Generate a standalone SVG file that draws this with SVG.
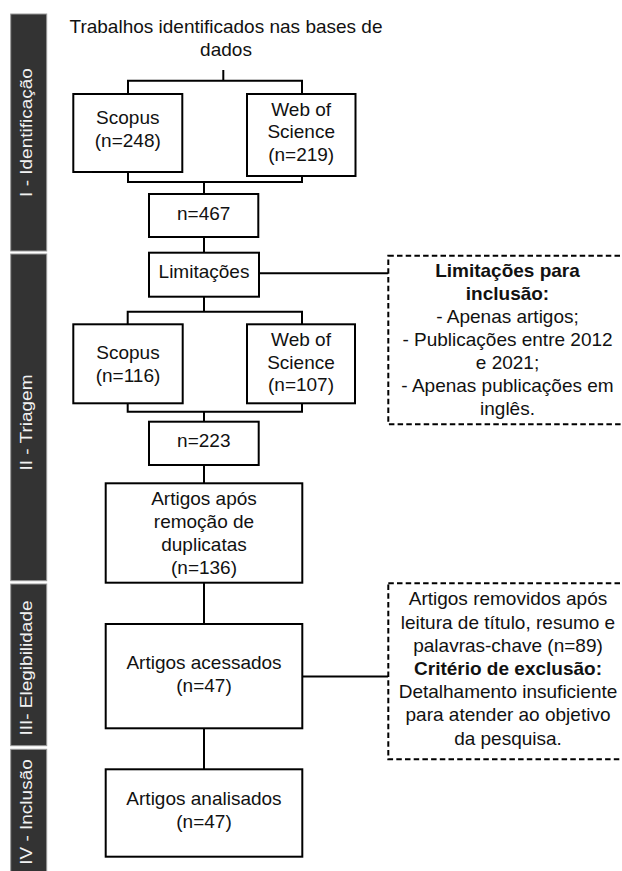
<svg xmlns="http://www.w3.org/2000/svg" width="622" height="871" viewBox="0 0 622 871">
<style>
.bg{fill:#ffffff}
.bar{fill:#333333;stroke:#9a9a9a;stroke-width:1}
.bt{font-family:"Liberation Sans",Arial,sans-serif;font-size:19px;fill:#f2f2f2;text-anchor:middle}
.box{fill:#ffffff;stroke:#000000;stroke-width:2}
.dash{fill:#ffffff;stroke:#000000;stroke-width:2;stroke-dasharray:5.5 3.2}
.t{font-family:"Liberation Sans",Arial,sans-serif;font-size:19px;fill:#111111;text-anchor:middle}
.b{font-weight:bold}
.c{fill:none;stroke:#000000;stroke-width:2}
</style>
<rect class="bg" x="0" y="0" width="622" height="871"/>

<g id="phase-1">
<rect class="bar" x="10.7" y="14" width="36" height="237"/>
<text class="bt" transform="translate(32,132.5) rotate(-90) scale(1,0.9)">I - Identificação</text>
</g>
<g id="phase-2">
<rect class="bar" x="10.7" y="254" width="36" height="326.7"/>
<text class="bt" transform="translate(32,422.5) rotate(-90) scale(1,0.9)">II - Triagem</text>
</g>
<g id="phase-3">
<rect class="bar" x="10.7" y="584" width="36" height="161.7"/>
<text class="bt" transform="translate(32,668) rotate(-90) scale(1,0.9)">III- Elegibilidade</text>
</g>
<g id="phase-4">
<rect class="bar" x="10.7" y="749.3" width="36" height="125"/>
<text class="bt" transform="translate(32,812) rotate(-90) scale(1,0.9)">IV - Inclusão</text>
</g>

<g id="connectors">
<path class="c" d="M223.3 70 V80.7"/>
<path class="c" d="M128 94 V80.7 H302 V94"/>
<path class="c" d="M128 172 V182 H302 V176"/>
<path class="c" d="M204 182 V194"/>
<path class="c" d="M204 237 V252.7"/>
<path class="c" d="M259 273.3 H388.3"/>
<path class="c" d="M204 296.7 V311.7"/>
<path class="c" d="M127.7 324.3 V311.7 H302 V324.3"/>
<path class="c" d="M127.7 403.3 V411.7 H302 V403.3"/>
<path class="c" d="M204 411.7 V421.7"/>
<path class="c" d="M204 465 V483.3"/>
<path class="c" d="M204 582.7 V624"/>
<path class="c" d="M302.3 676.5 H388.3"/>
<path class="c" d="M204 728.3 V769.3"/>
</g>

<g id="title">
<text class="t" x="226" y="33.3">Trabalhos identificados nas bases de</text>
<text class="t" x="226" y="56">dados</text>
</g>

<g id="scopus-1">
<rect class="box" x="73.3" y="94" width="109" height="78"/>
<text class="t" x="127.8" y="124">Scopus</text>
<text class="t" x="127.8" y="146.7">(n=248)</text>
</g>
<g id="wos-1">
<rect class="box" x="247" y="94" width="108.5" height="82"/>
<text class="t" x="301.2" y="115.5">Web of</text>
<text class="t" x="301.2" y="138.3">Science</text>
<text class="t" x="301.2" y="161.1">(n=219)</text>
</g>
<g id="n467">
<rect class="box" x="149" y="194" width="109.3" height="43"/>
<text class="t" x="203.7" y="220">n=467</text>
</g>
<g id="limitacoes">
<rect class="box" x="149" y="252.7" width="110" height="44"/>
<text class="t" x="204" y="278.3">Limitações</text>
</g>
<g id="limitacoes-note">
<rect class="dash" x="388.3" y="255.7" width="245" height="168.6"/>
<text class="t b" x="507.5" y="277.3">Limitações para</text>
<text class="t b" x="507.5" y="300.3">inclusão:</text>
<text class="t" x="507.5" y="323.3">- Apenas artigos;</text>
<text class="t" x="507.5" y="346.3">- Publicações entre 2012</text>
<text class="t" x="507.5" y="369.3">e 2021;</text>
<text class="t" x="507.5" y="392.3">- Apenas publicações em</text>
<text class="t" x="507.5" y="415.3">inglês.</text>
</g>
<g id="scopus-2">
<rect class="box" x="73.3" y="324.3" width="109.4" height="79"/>
<text class="t" x="128" y="359">Scopus</text>
<text class="t" x="128" y="382">(n=116)</text>
</g>
<g id="wos-2">
<rect class="box" x="247" y="324.3" width="108" height="79"/>
<text class="t" x="301" y="345.8">Web of</text>
<text class="t" x="301" y="368.6">Science</text>
<text class="t" x="301" y="391.4">(n=107)</text>
</g>
<g id="n223">
<rect class="box" x="149" y="421.7" width="109.7" height="43.3"/>
<text class="t" x="203.8" y="447.3">n=223</text>
</g>
<g id="apos-duplicatas">
<rect class="box" x="105.7" y="483.3" width="196.6" height="99.4"/>
<text class="t" x="204" y="505">Artigos após</text>
<text class="t" x="204" y="528">remoção de</text>
<text class="t" x="204" y="551">duplicatas</text>
<text class="t" x="204" y="574">(n=136)</text>
</g>
<g id="acessados">
<rect class="box" x="105.7" y="624" width="196.6" height="104.3"/>
<text class="t" x="204" y="669">Artigos acessados</text>
<text class="t" x="204" y="692">(n=47)</text>
</g>
<g id="exclusao-note">
<rect class="dash" x="388.3" y="583.3" width="245" height="176"/>
<text class="t" x="508" y="605.3">Artigos removidos após</text>
<text class="t" x="508" y="628.5">leitura de título, resumo e</text>
<text class="t" x="508" y="651.7">palavras-chave (n=89)</text>
<text class="t b" x="508" y="674.9">Critério de exclusão:</text>
<text class="t" x="508" y="698.1">Detalhamento insuficiente</text>
<text class="t" x="508" y="721.3">para atender ao objetivo</text>
<text class="t" x="508" y="744.5">da pesquisa.</text>
</g>
<g id="analisados">
<rect class="box" x="105.7" y="769.3" width="196.6" height="87.4"/>
<text class="t" x="204" y="805">Artigos analisados</text>
<text class="t" x="204" y="828">(n=47)</text>
</g>
</svg>
